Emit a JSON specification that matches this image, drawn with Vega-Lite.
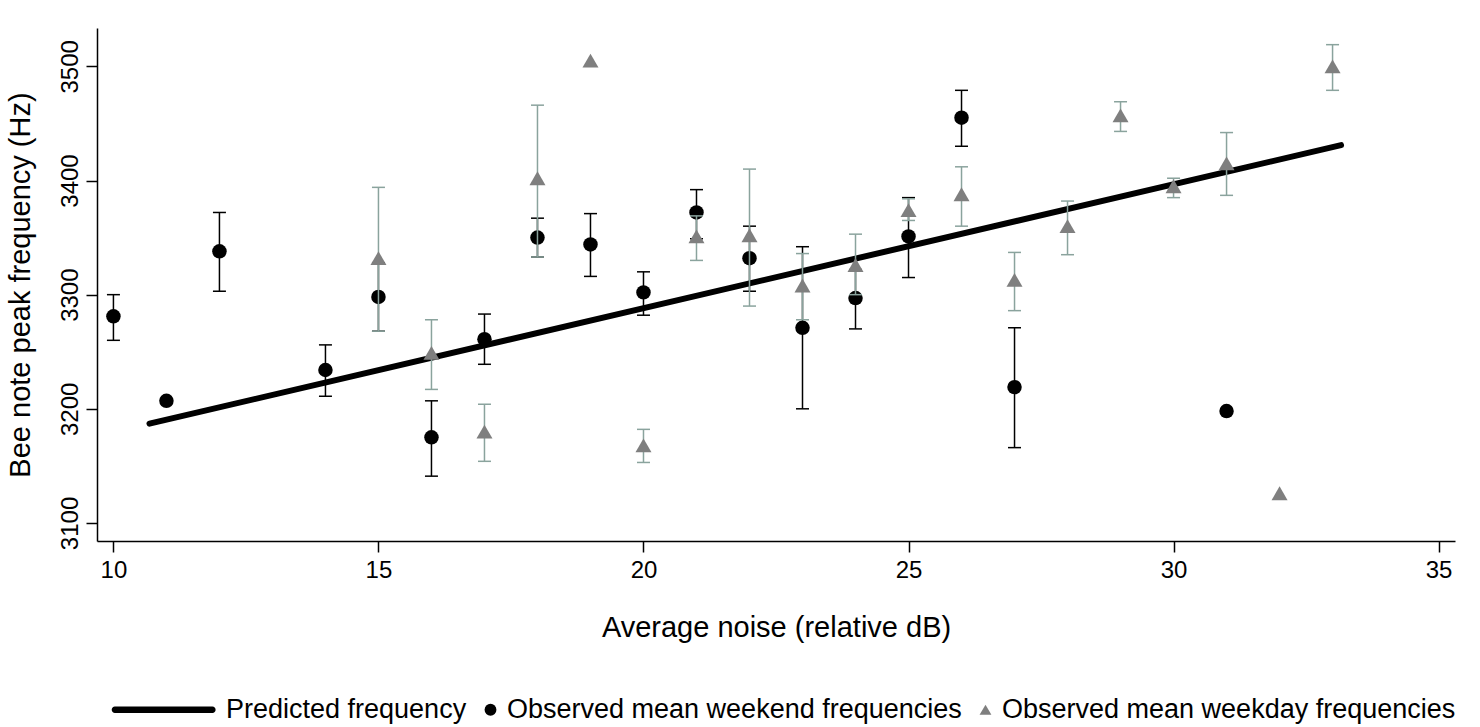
{
  "$schema": "https://vega.github.io/schema/vega-lite/v6.json",
  "width": 1358,
  "height": 513,
  "autosize": {"type": "none"},
  "padding": {"left": 97, "top": 28, "right": 25, "bottom": 186},
  "background": "white",
  "config": {
    "view": {"stroke": null},
    "font": "Liberation Sans",
    "axis": {
      "grid": false,
      "domainColor": "black",
      "domainWidth": 1.5,
      "tickColor": "black",
      "tickWidth": 1.5,
      "tickSize": 11,
      "labelFont": "Liberation Sans",
      "labelFontSize": 24,
      "labelColor": "black",
      "titleFont": "Liberation Sans",
      "titleFontSize": 29,
      "titleFontWeight": "normal",
      "titleColor": "black"
    }
  },
  "datasets": {
    "obs": [
      {"noise": 10, "series": "Observed mean weekend frequencies", "freq": 3281, "lo": 3260, "hi": 3300},
      {"noise": 11, "series": "Observed mean weekend frequencies", "freq": 3207, "lo": null, "hi": null},
      {"noise": 12, "series": "Observed mean weekend frequencies", "freq": 3338, "lo": 3303, "hi": 3372},
      {"noise": 14, "series": "Observed mean weekend frequencies", "freq": 3234, "lo": 3211, "hi": 3256},
      {"noise": 15, "series": "Observed mean weekend frequencies", "freq": 3298, "lo": 3268, "hi": 3328},
      {"noise": 16, "series": "Observed mean weekend frequencies", "freq": 3175, "lo": 3141, "hi": 3207},
      {"noise": 17, "series": "Observed mean weekend frequencies", "freq": 3261, "lo": 3239, "hi": 3283},
      {"noise": 18, "series": "Observed mean weekend frequencies", "freq": 3350, "lo": 3333, "hi": 3367},
      {"noise": 19, "series": "Observed mean weekend frequencies", "freq": 3344, "lo": 3316, "hi": 3371},
      {"noise": 20, "series": "Observed mean weekend frequencies", "freq": 3302, "lo": 3282, "hi": 3320},
      {"noise": 21, "series": "Observed mean weekend frequencies", "freq": 3372, "lo": 3349, "hi": 3392},
      {"noise": 22, "series": "Observed mean weekend frequencies", "freq": 3332, "lo": 3303, "hi": 3360},
      {"noise": 23, "series": "Observed mean weekend frequencies", "freq": 3271, "lo": 3200, "hi": 3342},
      {"noise": 24, "series": "Observed mean weekend frequencies", "freq": 3297, "lo": 3270, "hi": 3322},
      {"noise": 25, "series": "Observed mean weekend frequencies", "freq": 3351, "lo": 3315, "hi": 3385},
      {"noise": 26, "series": "Observed mean weekend frequencies", "freq": 3455, "lo": 3430, "hi": 3479},
      {"noise": 27, "series": "Observed mean weekend frequencies", "freq": 3219, "lo": 3166, "hi": 3271},
      {"noise": 31, "series": "Observed mean weekend frequencies", "freq": 3198, "lo": null, "hi": null},
      {"noise": 15, "series": "Observed mean weekday frequencies", "freq": 3332, "lo": 3268, "hi": 3394},
      {"noise": 16, "series": "Observed mean weekday frequencies", "freq": 3249, "lo": 3217, "hi": 3278},
      {"noise": 17, "series": "Observed mean weekday frequencies", "freq": 3180, "lo": 3154, "hi": 3204},
      {"noise": 18, "series": "Observed mean weekday frequencies", "freq": 3402, "lo": 3333, "hi": 3466},
      {"noise": 19, "series": "Observed mean weekday frequencies", "freq": 3505, "lo": null, "hi": null},
      {"noise": 20, "series": "Observed mean weekday frequencies", "freq": 3168, "lo": 3153, "hi": 3182},
      {"noise": 21, "series": "Observed mean weekday frequencies", "freq": 3351, "lo": 3330, "hi": 3369},
      {"noise": 22, "series": "Observed mean weekday frequencies", "freq": 3352, "lo": 3290, "hi": 3410},
      {"noise": 23, "series": "Observed mean weekday frequencies", "freq": 3308, "lo": 3278, "hi": 3336},
      {"noise": 24, "series": "Observed mean weekday frequencies", "freq": 3326, "lo": 3300, "hi": 3353},
      {"noise": 25, "series": "Observed mean weekday frequencies", "freq": 3374, "lo": 3365, "hi": 3384},
      {"noise": 26, "series": "Observed mean weekday frequencies", "freq": 3388, "lo": 3360, "hi": 3412},
      {"noise": 27, "series": "Observed mean weekday frequencies", "freq": 3313, "lo": 3286, "hi": 3337},
      {"noise": 28, "series": "Observed mean weekday frequencies", "freq": 3360, "lo": 3335, "hi": 3382},
      {"noise": 29, "series": "Observed mean weekday frequencies", "freq": 3457, "lo": 3443, "hi": 3469},
      {"noise": 30, "series": "Observed mean weekday frequencies", "freq": 3395, "lo": 3385, "hi": 3402},
      {"noise": 31, "series": "Observed mean weekday frequencies", "freq": 3415, "lo": 3387, "hi": 3442},
      {"noise": 32, "series": "Observed mean weekday frequencies", "freq": 3126, "lo": null, "hi": null},
      {"noise": 33, "series": "Observed mean weekday frequencies", "freq": 3500, "lo": 3479, "hi": 3519}
    ],
    "pred": [
      {"noise": 10.68, "freq": 3187},
      {"noise": 33.16, "freq": 3431}
    ]
  },
  "encoding": {
    "x": {
      "field": "noise",
      "type": "quantitative",
      "title": "Average noise (relative dB)",
      "scale": {"domain": [9.69, 35.31], "nice": false, "zero": false},
      "axis": {"values": [10, 15, 20, 25, 30, 35], "labelPadding": 6, "titlePadding": 31}
    },
    "y": {
      "field": "freq",
      "type": "quantitative",
      "title": "Bee note peak frequency (Hz)",
      "scale": {"domain": [3084.2, 3533.6], "nice": false, "zero": false},
      "axis": {"values": [3100, 3200, 3300, 3400, 3500], "format": "d", "labelAngle": -90, "labelAlign": "center", "labelBaseline": "bottom", "labelPadding": 4, "titlePadding": 23}
    }
  },
  "layer": [
    {
      "data": {"name": "pred"},
      "mark": {"type": "line", "color": "black", "strokeWidth": 6, "strokeCap": "round"}
    },
    {
      "data": {"name": "obs"},
      "transform": [{"filter": "datum.series === 'Observed mean weekend frequencies' && isValid(datum.lo)"}],
      "mark": {"type": "rule", "color": "black", "strokeWidth": 1.5},
      "encoding": {
        "y": {"field": "lo", "type": "quantitative", "title": "Bee note peak frequency (Hz)"},
        "y2": {"field": "hi"}
      }
    },
    {
      "data": {"name": "obs"},
      "transform": [
        {"filter": "datum.series === 'Observed mean weekend frequencies' && isValid(datum.lo)"},
        {"fold": ["lo", "hi"], "as": ["end", "val"]}
      ],
      "mark": {"type": "tick", "orient": "horizontal", "color": "black", "size": 13, "thickness": 1.5, "opacity": 1},
      "encoding": {
        "y": {"field": "val", "type": "quantitative", "title": "Bee note peak frequency (Hz)"}
      }
    },
    {
      "data": {"name": "obs"},
      "transform": [{"filter": "datum.series === 'Observed mean weekend frequencies'"}],
      "mark": {"type": "point", "filled": true, "opacity": 1, "size": 210, "strokeWidth": 0},
      "encoding": {
        "color": {
          "field": "series",
          "type": "nominal",
          "scale": {
            "domain": ["Predicted frequency", "Observed mean weekend frequencies", "Observed mean weekday frequencies"],
            "range": ["black", "black", "#7f7f7f"]
          },
          "legend": {
            "orient": "none",
            "legendX": 99,
            "legendY": 668,
            "direction": "horizontal",
            "title": null,
            "labelFont": "Liberation Sans",
            "labelFontSize": 27,
            "labelColor": "black",
            "labelLimit": 0,
            "symbolSize": 140,
            "columnPadding": 10,
            "labelOffset": 3,
            "symbolStrokeWidth": 0
          }
        },
        "shape": {
          "field": "series",
          "type": "nominal",
          "scale": {
            "domain": ["Predicted frequency", "Observed mean weekend frequencies", "Observed mean weekday frequencies"],
            "range": ["M-16,-0.53H0.5A0.53,0.53 0 0 1 0.5,0.53H-16A0.53,0.53 0 0 1 -16,-0.53Z", "circle", "triangle-up"]
          },
          "legend": {
            "orient": "none",
            "legendX": 99,
            "legendY": 668,
            "direction": "horizontal",
            "title": null,
            "labelFont": "Liberation Sans",
            "labelFontSize": 27,
            "labelColor": "black",
            "labelLimit": 0,
            "symbolSize": 140,
            "columnPadding": 10,
            "labelOffset": 3,
            "symbolStrokeWidth": 0
          }
        }
      }
    },
    {
      "data": {"name": "obs"},
      "transform": [{"filter": "datum.series === 'Observed mean weekday frequencies' && isValid(datum.lo)"}],
      "mark": {"type": "rule", "color": "#8aa39d", "strokeWidth": 1.5},
      "encoding": {
        "y": {"field": "lo", "type": "quantitative", "title": "Bee note peak frequency (Hz)"},
        "y2": {"field": "hi"}
      }
    },
    {
      "data": {"name": "obs"},
      "transform": [
        {"filter": "datum.series === 'Observed mean weekday frequencies' && isValid(datum.lo)"},
        {"fold": ["lo", "hi"], "as": ["end", "val"]}
      ],
      "mark": {"type": "tick", "orient": "horizontal", "color": "#8aa39d", "size": 13, "thickness": 1.5, "opacity": 1},
      "encoding": {
        "y": {"field": "val", "type": "quantitative", "title": "Bee note peak frequency (Hz)"}
      }
    },
    {
      "data": {"name": "obs"},
      "transform": [{"filter": "datum.series === 'Observed mean weekday frequencies'"}],
      "mark": {"type": "point", "filled": true, "opacity": 1, "size": 256, "strokeWidth": 0},
      "encoding": {
        "color": {"field": "series", "type": "nominal"},
        "shape": {"field": "series", "type": "nominal"}
      }
    }
  ]
}
